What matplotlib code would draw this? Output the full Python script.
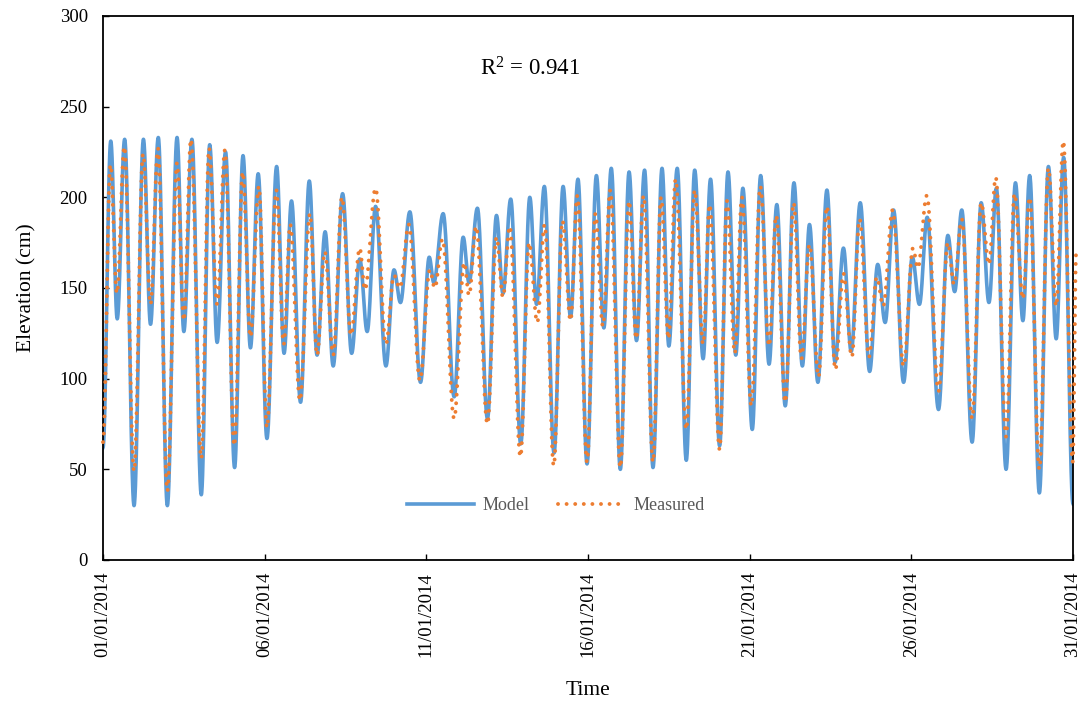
import numpy as np
import matplotlib
matplotlib.use("Agg")
import matplotlib.pyplot as plt

# Turning points of the tidal elevation (time in days since 01/01/2014, elevation in cm)
model_t = [0.00, 0.24, 0.44, 0.67, 0.96, 1.25, 1.47, 1.71, 1.99, 2.29, 2.50, 2.75, 3.04, 3.30,
           3.53, 3.79, 4.07, 4.33, 4.56, 4.80, 5.07, 5.37, 5.60, 5.83, 6.11, 6.38, 6.62, 6.87,
           7.12, 7.41, 7.69, 7.94, 8.17, 8.43, 8.75, 9.00, 9.20, 9.49, 9.82, 10.09, 10.23,
           10.52, 10.86, 11.14, 11.32, 11.58, 11.89, 12.17, 12.37, 12.61, 12.92, 13.20, 13.41,
           13.65, 13.95, 14.23, 14.46, 14.69, 14.97, 15.26, 15.49, 15.72, 16.00, 16.27, 16.50,
           16.75, 17.01, 17.29, 17.50, 17.76, 18.04, 18.30, 18.56, 18.79, 19.07, 19.33, 19.57,
           19.79, 20.08, 20.34, 20.60, 20.84, 21.10, 21.37, 21.63, 21.85, 22.11, 22.39, 22.64,
           22.90, 23.14, 23.42, 23.71, 23.96, 24.19, 24.45, 24.76, 25.03, 25.25, 25.49, 25.84,
           26.13, 26.34, 26.56, 26.88, 27.16, 27.40, 27.63, 27.93, 28.22, 28.45, 28.66, 28.96,
           29.24, 29.48, 29.71, 30.00]
model_v = [62, 231, 133, 232, 30, 232, 130, 233, 30, 233, 126, 232, 36, 229,
           120, 225, 51, 223, 117, 213, 67, 217, 114, 198, 87, 209, 113, 181,
           107, 202, 114, 166, 126, 195, 107, 160, 142, 192, 98, 167, 153,
           191, 90, 178, 153, 194, 78, 190, 147, 199, 64, 200, 141,
           206, 59, 206, 134, 210, 53, 212, 128, 216, 50, 214, 121,
           215, 51, 216, 118, 216, 55, 215, 111, 210, 63, 214, 113,
           205, 72, 212, 108, 196, 85, 208, 107, 185, 98, 204, 109,
           172, 115, 197, 104, 163, 131, 193, 98, 167, 141, 189, 83,
           179, 148, 193, 65, 197, 142, 205, 50, 208, 132, 212, 37,
           217, 122, 222, 31]

meas_t = [0.00, 0.23, 0.43, 0.66, 0.96, 1.24, 1.47, 1.70, 1.99, 2.29, 2.50, 2.72, 3.04, 3.28,
          3.53, 3.77, 4.06, 4.32, 4.56, 4.82, 5.07, 5.36, 5.59, 5.79, 6.09, 6.40, 6.62, 6.86,
          7.12, 7.39, 7.67, 7.94, 8.10, 8.43, 8.75, 9.00, 9.18, 9.46, 9.80, 10.11, 10.26,
          10.50, 10.86, 11.17, 11.32, 11.54, 11.89, 12.17, 12.37, 12.58, 12.91, 13.18, 13.43,
          13.66, 13.94, 14.21, 14.46, 14.67, 14.97, 15.23, 15.46, 15.69, 16.00, 16.27, 16.49,
          16.72, 17.01, 17.26, 17.49, 17.71, 18.04, 18.30, 18.56, 18.76, 19.07, 19.30, 19.54,
          19.76, 20.05, 20.33, 20.60, 20.82, 21.10, 21.36, 21.60, 21.85, 22.13, 22.39, 22.65,
          22.90, 23.16, 23.40, 23.69, 23.93, 24.13, 24.42, 24.76, 25.05, 25.20, 25.48, 25.84,
          26.13, 26.32, 26.56, 26.88, 27.16, 27.40, 27.61, 27.93, 28.19, 28.45, 28.66, 28.96,
          29.24, 29.48, 29.70, 29.99, 30.10]
meas_v = [65, 218, 147, 228, 49, 224, 141, 227, 38, 219, 132, 232, 56, 227,
          141, 226, 63, 214, 123, 206, 73, 204, 119, 185, 88, 191, 113, 170,
          113, 200, 124, 172, 149, 205, 119, 157, 150, 185, 99, 160, 150,
          177, 78, 164, 146, 184, 75, 178, 145, 184, 57, 175, 131,
          185, 52, 187, 132, 201, 54, 191, 129, 204, 51, 198, 122,
          201, 54, 200, 122, 210, 72, 204, 119, 196, 61, 198, 114,
          200, 85, 206, 118, 190, 87, 197, 111, 174, 101, 195, 105,
          158, 112, 188, 112, 156, 140, 193, 107, 172, 161, 201, 93,
          175, 152, 188, 78, 197, 163, 211, 68, 202, 144, 200, 50,
          216, 140, 231, 54, 170]

tick_days = [0, 5, 10, 15, 20, 25, 30]
tick_labels = ["01/01/2014", "06/01/2014", "11/01/2014", "16/01/2014",
               "21/01/2014", "26/01/2014", "31/01/2014"]
y_ticks = [0, 50, 100, 150, 200, 250, 300]
r2_text = "R$^{2}$ = 0.941"


def tidal_curve(t, v, n=40):
    """Join successive high/low waters with smooth half-cosine segments."""
    xs, ys = [], []
    for i in range(len(t) - 1):
        s = np.linspace(0, 1, n, endpoint=False)
        xs.append(t[i] + (t[i + 1] - t[i]) * s)
        ys.append(v[i] + (v[i + 1] - v[i]) * (1 - np.cos(np.pi * s)) / 2)
    xs.append([t[-1]])
    ys.append([v[-1]])
    return np.concatenate(xs), np.concatenate(ys)


plt.rcParams["font.family"] = ["Liberation Serif", "DejaVu Serif"]
plt.rcParams["mathtext.fontset"] = "custom"
plt.rcParams["mathtext.rm"] = "Liberation Serif"
plt.rcParams["mathtext.it"] = "Liberation Serif:italic"

fig = plt.figure(figsize=(10.85, 7.05), dpi=100)
ax = fig.add_axes([103 / 1085, 1 - 560 / 705, (1073 - 103) / 1085, (560 - 16) / 705])

mx, my = tidal_curve(model_t, model_v)
ex, ey = tidal_curve(meas_t, meas_v)

ax.plot(mx, my, color="#5B9BD5", lw=2.6, label="Model", zorder=2)
ax.plot(ex, ey, color="#ED7D31", lw=2.8, linestyle=(0, (0.01, 2.2)),
        dash_capstyle="round", label="Measured", zorder=3, clip_on=False)

ax.set_xlim(0, 30)
ax.set_ylim(0, 300)
ax.set_xticks(tick_days)
ax.set_xticklabels(tick_labels, rotation=90, fontsize=13.5)
ax.set_yticks(y_ticks)
ax.set_yticklabels([str(v) for v in y_ticks], fontsize=13.5)
ax.tick_params(axis="both", direction="in", length=4, width=1, color="black")
ax.tick_params(axis="y", pad=11)
ax.tick_params(axis="x", pad=8.5)

for sp in ax.spines.values():
    sp.set_color("black")
    sp.set_linewidth(1.3)

ax.set_xlabel("Time", fontsize=15.5, labelpad=17)
ax.set_ylabel("Elevation (cm)", fontsize=15.5, labelpad=17)

ax.text(13.2, 271, r2_text, fontsize=16.5, ha="center", va="center")

leg = ax.legend(loc="center", bbox_to_anchor=(0.467, 0.1), ncol=2, frameon=False,
                fontsize=13, handlelength=3.7, handletextpad=0.45, columnspacing=1.6)
for txt in leg.get_texts():
    txt.set_color("#595959")

fig.savefig("out.png", dpi=100)
